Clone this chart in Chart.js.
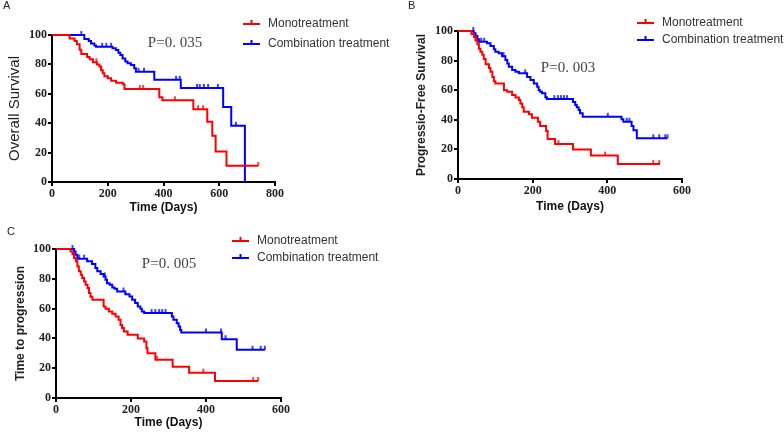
<!DOCTYPE html>
<html>
<head>
<meta charset="utf-8">
<script src="https://cdn.jsdelivr.net/npm/chart.js@4.4.0/dist/chart.umd.min.js"></script>
<style>
  body { margin: 0; background: #fff; width: 784px; height: 433px; overflow: hidden; position: relative; }
  canvas { position: absolute; }
</style>
</head>
<body>
<canvas id="chartA" width="400" height="218" style="left:0;top:0"></canvas>
<canvas id="chartB" width="392" height="218" style="left:392px;top:0"></canvas>
<canvas id="chartC" width="400" height="215" style="left:0;top:218px"></canvas>
<script>
var groups = ['Monotreatment', 'Combination treatment'];
var colors = ['#ff0000', '#0000ff'];
var yTicks = [0, 20, 40, 60, 80, 100];
var xTicksA = [0, 200, 400, 600, 800];
var xTicksBC = [0, 200, 400, 600];

// A - overall survival (time in days, survival %)
var osMonoT = [0,63,81,89,99,105,126,135,147,161,170,176,182,188,200,212,230,254,260,385,396,507,557,575,587,626,740];
var osMonoS = [100,97.7,96,93.7,90,87,85,83.5,81.4,80,78.5,76,74,72,70.6,68.8,67.6,66.5,63.3,57.7,55.6,49.5,41,31.4,20.8,11,11];
var osMonoCensT = [159,177,315,327,441,524,542,740];
var osMonoCensS = [81.4,76,63.3,63.3,55.6,49.5,49.5,11];
var osCombT = [0,116,132,140,152,158,217,229,238,245,253,263,271,283,295,301,367,462,614,643,692];
var osCombS = [100,97.3,96,94.3,92.8,92,91,89.8,88,86.4,84,82,80.8,79.6,77.4,75,69.5,64,51,38.2,0];
var osCombCensT = [105,180,195,212,310,330,445,458,520,530,545,560,595,660];
var osCombCensS = [100,92,92,92,75,75,69.5,69.5,64,64,64,64,64,38.2];

// B - progression-free survival
var pfsMonoT = [0,36,43,47,52,56,60,65,69,74,83,87,92,96,100,123,132,145,154,163,167,172,176,190,198,214,220,236,240,260,308,356,428,541];
var pfsMonoS = [100,98,96,93.5,91,88,86,84,81,77.5,75,72.5,69,66,64.6,60,59,56.8,55,53.4,51,48.4,45.5,43.7,41.4,38.7,35.8,32.4,27,23.6,20,15.8,10.1,10.1];
var pfsMonoCensT = [269,394,523,539];
var pfsMonoCensS = [23.6,15.8,10.1,10.1];
var pfsCombT = [0,42,47,52,56,78,87,96,100,109,118,127,132,136,145,154,163,185,194,203,212,216,220,225,234,238,308,314,318,323,327,334,438,443,465,470,479,561];
var pfsCombS = [100,98.4,96.6,94.4,92.8,91.7,89.9,87.6,86,85,83,80.4,78,75.9,73.6,72.5,71.4,69,66.9,64.6,62.4,60,59,57.9,55.2,54,52,50,48.4,46.6,44.4,42,40.3,38.7,35.8,33,27.5,27.5];
var pfsCombCensT = [41,62,70,122,180,258,268,276,284,292,401,452,459,523,539,555,561];
var pfsCombCensS = [100,92.8,92.8,83,71.4,54,54,54,54,54,42,38.7,38.7,27.5,27.5,27.5,27.5];

// C - time to progression
var ttpMonoT = [0,39,44,48,53,57,61,66,70,75,79,84,88,92,97,127,132,141,150,159,167,172,176,181,191,218,235,241,244,265,311,355,424,539];
var ttpMonoS = [100,98.4,96.6,94,91.7,88.3,85,82.7,80.5,78.2,76,73.8,70.4,68,65.9,61.4,59.9,58,56.5,54.7,52.5,49,46.9,44.6,42.4,40,37.9,33.4,30,25.6,21,17,11.4,11.4];
var ttpMonoCensT = [269,393,526,539];
var ttpMonoCensS = [25.6,17,11.4,11.4];
var ttpCombT = [0,48,52,57,83,96,105,110,119,127,132,136,143,150,156,163,185,196,203,211,218,225,229,235,309,313,322,327,331,334,442,482,557];
var ttpCombS = [100,98.4,96.2,93.5,91.7,89.9,87.2,85,83.2,81.6,79.4,77,76,74.2,73.3,71.5,69.7,68.2,65.9,63.7,61.4,59.9,58,57,54.7,52.5,50.2,48,45.7,44,39.5,32.4,32.4];
var ttpCombCensT = [44,62,75,130,180,255,265,275,283,292,400,440,452,524,546,557];
var ttpCombCensS = [100,93.5,93.5,81.6,71.5,57,57,57,57,57,44,44,39.5,32.4,32.4,32.4];

function pts(t, s) {
  return t.map(function(v, i) { return {x: v, y: s[i]}; });
}

// upward censor tick, drawn as a small image centred on the point
function censorMark(color) {
  var c = document.createElement('canvas');
  c.width = 4; c.height = 10;
  var g = c.getContext('2d');
  g.strokeStyle = color;
  g.lineWidth = 1.5;
  g.beginPath();
  g.moveTo(2, 1);
  g.lineTo(2, 5);
  g.stroke();
  return c;
}
var marks = colors.map(censorMark);

// panel letter, P value and legend
var decor = {
  id: 'decor',
  afterDraw: function(chart, args, o) {
    var ctx = chart.ctx;
    ctx.save();
    ctx.textBaseline = 'middle';
    ctx.fillStyle = '#222';
    ctx.font = '11px "Liberation Sans"';
    ctx.fillText(o.letter, o.letterX, o.letterY);
    ctx.font = '15px "Liberation Serif"';
    ctx.fillStyle = '#444';
    ctx.textAlign = 'center';
    ctx.fillText(o.pText, o.pX, o.pY);
    ctx.textAlign = 'left';
    ctx.font = '12px "Liberation Sans"';
    groups.forEach(function(g, i) {
      var y = o.legY + i * o.legGap;
      ctx.strokeStyle = colors[i];
      ctx.lineWidth = 2;
      ctx.beginPath();
      ctx.moveTo(o.legX, y);
      ctx.lineTo(o.legX + 17, y);
      ctx.moveTo(o.legX + 8.5, y);
      ctx.lineTo(o.legX + 8.5, y - 4);
      ctx.stroke();
      ctx.fillStyle = '#333';
      ctx.fillText(g, o.legX + 25, y);
    });
    ctx.restore();
  }
};

function kmChart(id, sp) {
  var datasets = [];
  sp.curves.forEach(function(c, i) {
    datasets.push({
      label: groups[i], data: pts(c[0], c[1]), borderColor: colors[i], borderWidth: 2,
      stepped: true, pointRadius: 0, fill: false, clip: false, order: i
    });
    datasets.push({
      label: groups[i] + ' censored', data: pts(c[2], c[3]), showLine: false,
      pointStyle: marks[i], pointRadius: 3,
      borderColor: colors[i], backgroundColor: colors[i], clip: false, order: i
    });
  });
  var tickFont = {family: 'Liberation Serif', weight: 'bold', size: 12};
  return new Chart(document.getElementById(id), {
    type: 'line',
    data: {datasets: datasets},
    plugins: [decor],
    options: {
      responsive: false,
      animation: false,
      layout: {padding: {top: sp.top, right: sp.right, left: 0, bottom: 0}},
      plugins: {legend: {display: false}, tooltip: {enabled: false}, decor: sp.decor},
      scales: {
        x: {
          type: 'linear', min: 0, max: sp.xTicks[sp.xTicks.length - 1],
          afterBuildTicks: function(s) { s.ticks = sp.xTicks.map(function(v) { return {value: v}; }); },
          afterFit: function(s) { s.height = sp.xH; },
          grid: {drawOnChartArea: false, color: '#000', lineWidth: 2, tickLength: 4},
          border: {color: '#000', width: 2},
          ticks: {font: tickFont, color: '#222', padding: 1, maxRotation: 0, autoSkip: false},
          title: {display: true, text: 'Time (Days)', color: '#111',
                  font: {family: 'Liberation Sans', weight: 'bold', size: 12},
                  padding: {top: 0, bottom: sp.xTitlePad}}
        },
        y: {
          min: 0, max: 100,
          afterBuildTicks: function(s) { s.ticks = yTicks.map(function(v) { return {value: v}; }); },
          afterFit: function(s) { s.width = sp.yW; },
          grid: {drawOnChartArea: false, color: '#000', lineWidth: 2, tickLength: 4},
          border: {color: '#000', width: 2},
          ticks: {font: tickFont, color: '#222', padding: 1, autoSkip: false},
          title: {display: true, text: sp.yTitle, color: '#222', font: sp.yTitleFont,
                  padding: {top: sp.yTitlePad, bottom: 0}}
        }
      }
    }
  });
}

kmChart('chartA', {
  curves: [[osMonoT, osMonoS, osMonoCensT, osMonoCensS], [osCombT, osCombS, osCombCensT, osCombCensS]],
  xTicks: xTicksA, top: 35, right: 125, yW: 52, xH: 36, xTitlePad: 3,
  yTitle: 'Overall Survival', yTitleFont: {family: 'Liberation Sans', size: 15}, yTitlePad: 6,
  decor: {letter: 'A', letterX: 3, letterY: 6, pText: 'P=0. 035', pX: 175, pY: 43,
          legX: 243, legY: 24, legGap: 20}
});
kmChart('chartB', {
  curves: [[pfsMonoT, pfsMonoS, pfsMonoCensT, pfsMonoCensS], [pfsCombT, pfsCombS, pfsCombCensT, pfsCombCensS]],
  xTicks: xTicksBC, top: 31, right: 102, yW: 66, xH: 39, xTitlePad: 4,
  yTitle: 'Progressio-Free Survival', yTitleFont: {family: 'Liberation Sans', weight: 'bold', size: 12}, yTitlePad: 22,
  decor: {letter: 'B', letterX: 16, letterY: 6, pText: 'P=0. 003', pX: 176, pY: 68,
          legX: 245, legY: 23, legGap: 17}
});
kmChart('chartC', {
  curves: [[ttpMonoT, ttpMonoS, ttpMonoCensT, ttpMonoCensS], [ttpCombT, ttpCombS, ttpCombCensT, ttpCombCensS]],
  xTicks: xTicksBC, top: 31, right: 119, yW: 56, xH: 35, xTitlePad: 3,
  yTitle: 'Time to progression', yTitleFont: {family: 'Liberation Sans', weight: 'bold', size: 12}, yTitlePad: 13,
  decor: {letter: 'C', letterX: 7, letterY: 14, pText: 'P=0. 005', pX: 169, pY: 46,
          legX: 232, legY: 23, legGap: 17}
});
</script>
</body>
</html>
